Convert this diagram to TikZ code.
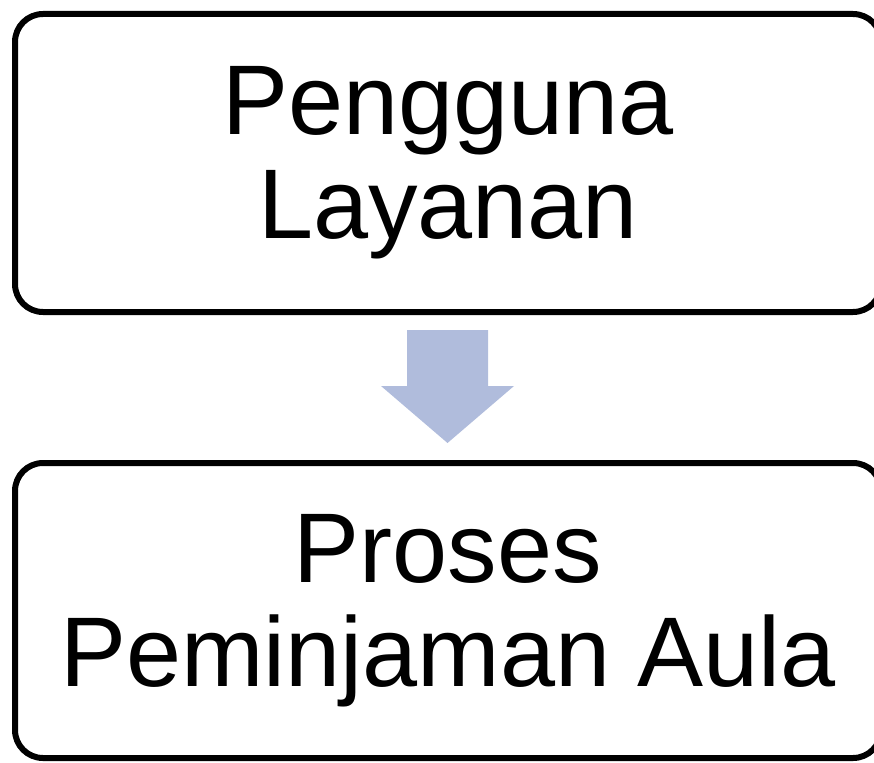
\documentclass[tikz,border=0pt]{standalone}
\usepackage{fontspec}
\setmainfont{Liberation Sans}
\definecolor{arrowblue}{RGB}{176,188,220}
\begin{document}
\begin{tikzpicture}[x=1pt,y=-1pt,
  box/.style={draw=black,line width=6pt,rounded corners=28pt,align=center,
    font=\fontsize{99}{104}\selectfont,inner sep=0pt}]
\useasboundingbox (0,0) rectangle (874,762);
\node[box,minimum width=866pt,minimum height=298pt] (top) at (448,163)
  {Pengguna\\Layanan};
\node[box,minimum width=866pt,minimum height=295pt] (bot) at (448,610.5)
  {Proses\\Peminjaman Aula};
\fill[arrowblue] (407,330) -- (488,330) -- (488,386) -- (514,386)
  -- (447.5,443) -- (381,386) -- (407,386) -- cycle;
\end{tikzpicture}
\end{document}
